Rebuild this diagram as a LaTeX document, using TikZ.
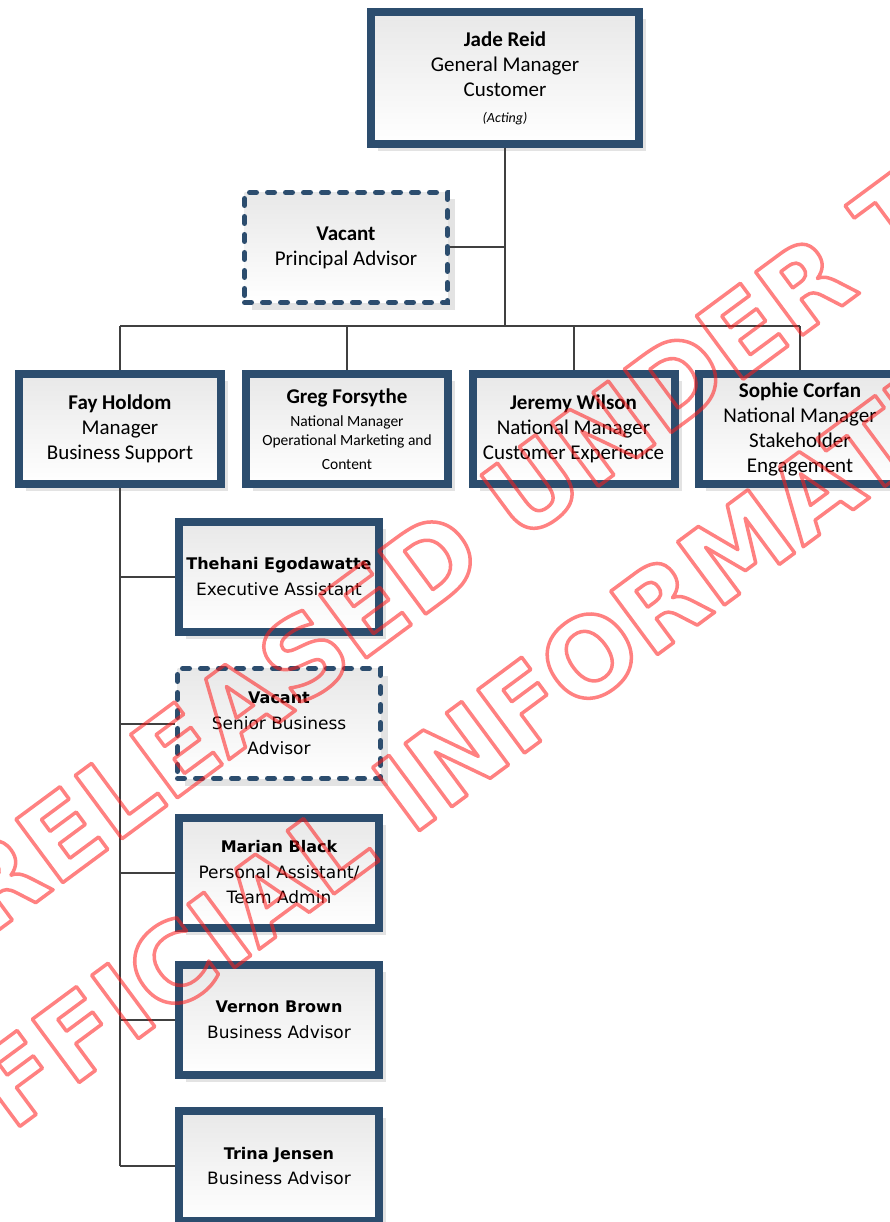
\documentclass[tikz,border=0pt]{standalone}
\usepackage{fontspec}
\setmainfont{Carlito}
\newfontfamily\verdfont{DejaVu Sans}
\usetikzlibrary{shadows}

\definecolor{boxblue}{HTML}{2C4D6E}
\definecolor{linkgray}{HTML}{404040}
\definecolor{markred}{HTML}{FF1A1A}

\newcommand{\pname}[1]{{\fontsize{16}{25.5}\selectfont\bfseries #1}}

\tikzset{
  posbox/.style={draw=boxblue, line width=8pt, top color=black!9, bottom color=white,
    minimum width=202pt, minimum height=110pt, inner sep=0pt, align=center,
    drop shadow={shadow xshift=7pt, shadow yshift=-7pt, opacity=0.18, fill=black!60}},
  vacbox/.style={posbox, line width=5pt, dash pattern=on 7pt off 11pt, line cap=round},
  topfont/.style={font=\fontsize{21}{25}\selectfont},
  lowfont/.style={font=\verdfont\fontsize{17}{25.5}\selectfont},
  link/.style={draw=linkgray, line width=2pt},
  markline/.style={font=\verdfont\bfseries\fontsize{108}{120}\selectfont, text=markred,
    rotate=36.5, inner sep=0pt}
}

\begin{document}
\begin{tikzpicture}[x=1pt, y=-1pt]
    \useasboundingbox (0,0) rectangle (890,1222);

    % General manager and advisor
    \node[posbox, topfont, minimum width=268pt, minimum height=132pt] (jade) at (505,78)
         {\textbf{Jade Reid}\\General Manager\\Customer\\[1pt]{\fontsize{14}{16}\selectfont\itshape (Acting)}};
    \node[vacbox, topfont, minimum width=203pt] (advisor) at (346,247.5)
         {\textbf{Vacant}\\Principal Advisor};

    % Managers row
    \node[posbox, topfont] (fay) at (120,429)
         {\textbf{Fay Holdom}\\Manager\\Business Support};
    \node[posbox, topfont] (greg) at (347,429)
         {\textbf{Greg Forsythe}\\[-2pt]{\fontsize{15.5}{18}\selectfont National Manager}\\[-6pt]{\fontsize{15.5}{18}\selectfont Operational Marketing and}\\[-1pt]{\fontsize{15.5}{18}\selectfont Content}};
    \node[posbox, topfont] (jeremy) at (573.5,429)
         {\textbf{Jeremy Wilson}\\National Manager\\Customer Experience};
    \node[posbox, topfont] (sophie) at (800,429)
         {\textbf{Sophie Corfan}\\National Manager\\Stakeholder\\Engagement};

    % Business support team
    \node[posbox, lowfont, minimum width=200pt] (thehani) at (279,576.5)
         {\pname{Thehani Egodawatte}\\Executive Assistant};
    \node[vacbox, lowfont, minimum width=203pt] (seniorvac) at (279,723.5)
         {\pname{Vacant}\\Senior Business\\Advisor};
    \node[posbox, lowfont, minimum width=200pt] (marian) at (279,872.5)
         {\pname{Marian Black}\\Personal Assistant/\\Team Admin};
    \node[posbox, lowfont, minimum width=200pt] (vernon) at (279,1020)
         {\pname{Vernon Brown}\\Business Advisor};
    \node[posbox, lowfont, minimum width=200pt] (trina) at (279,1166)
         {\pname{Trina Jensen}\\Business Advisor};

    % Connectors
    \coordinate (busmid) at (505,326);
    \coordinate (busleft) at (120,326);
    \coordinate (busright) at (800,326);
    \draw[link] (jade) -- (busmid);
    \draw[link] (advisor.east) -- (advisor.east -| busmid);
    \draw[link] (busleft) -- (busright);
    \foreach \m in {fay,greg,jeremy,sophie}
        \draw[link] (\m) -- (\m |- busleft);
    \draw[link] (fay) -- (fay |- trina);
    \foreach \m in {thehani,seniorvac,marian,vernon,trina}
        \draw[link] (fay |- \m) -- (\m);

    % Watermark
    \begin{scope}[opacity=0.55]
    \node[markline] (markone) at (512,501.3)
         {\special{pdf:literal direct 1 Tr 3.5 w 1 j}RELEASED UNDER THE\special{pdf:literal direct 0 Tr}};
    \node[markline] (marktwo) at (606.5,643.4)
         {\special{pdf:literal direct 1 Tr 3.5 w 1 j}OFFICIAL INFORMATION ACT\special{pdf:literal direct 0 Tr}};
    \end{scope}

\end{tikzpicture}
\end{document}
